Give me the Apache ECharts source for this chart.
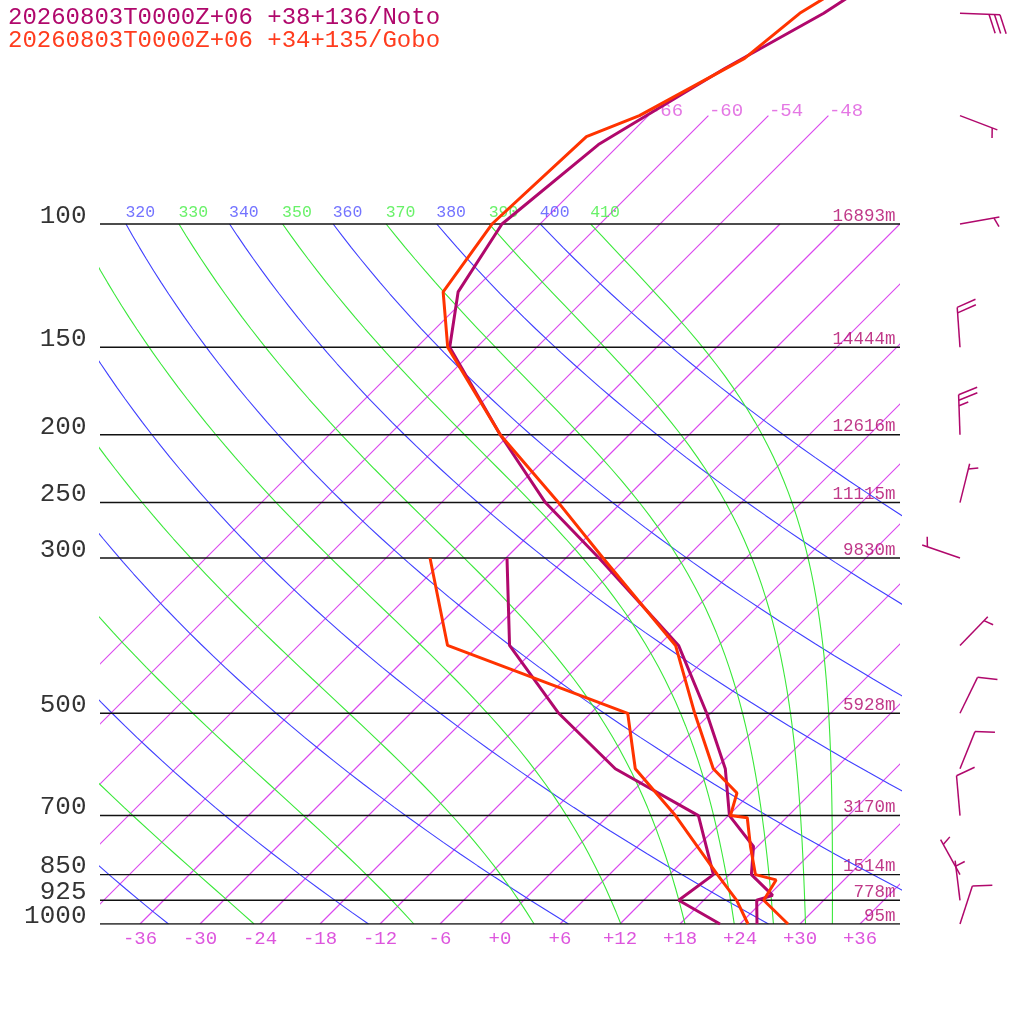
<!DOCTYPE html>
<html>
<head>
<meta charset="utf-8">
<title>Skew-T</title>
<script src="https://cdn.jsdelivr.net/npm/echarts@6/dist/echarts.min.js"></script>
<style>
  html, body { margin: 0; padding: 0; background: #fff; }
  #chart { width: 1024px; height: 1024px; }
</style>
</head>
<body>
<div id="chart"></div>
<script>
// Noto sounding
const notoTP = [40, 50, 60, 77, 100, 125, 150, 200, 250, 300, 400, 500, 600, 700, 775, 850, 910, 925, 1000];
const notoT = [-55.1, -58.7, -63.1, -68.1, -69.8, -67.4, -62.7, -48.9, -37.6, -26.7, -10.0, -0.4, 7.0, 12.1, 17.6, 20.2, 24.4, 23.3, 25.7];
const notoTdP = [300, 400, 500, 600, 700, 850, 925, 1000];
const notoTd = [-35.9, -26.9, -15.2, -4.0, 9.0, 16.4, 15.5, 22.0];

// Gobo sounding
const goboTP = [40, 50, 58, 70, 75, 100, 125, 150, 200, 250, 300, 400, 500, 600, 650, 700, 705, 775, 850, 865, 925, 1000];
const goboT = [-56.8, -61.1, -62.1, -66.9, -70.1, -70.8, -68.9, -62.9, -48.9, -36.3, -26.3, -10.3, -1.6, 5.8, 10.6, 12.2, 14.1, 17.3, 20.6, 23.2, 24.0, 28.8];
const goboTdP = [300, 400, 500, 600, 700, 850, 925, 1000];
const goboTd = [-43.6, -33.1, -8.3, -2.0, 6.7, 16.8, 21.3, 24.8];

// wind barbs (Noto)
const windP = [50, 70, 100, 150, 200, 250, 300, 400, 500, 600, 700, 850, 925, 1000];
const windDir = [92, 111, 80, 356, 358, 14, 289, 44, 26, 22, 355, 331, 353, 18];
const windKt = [30, 5, 5, 20, 25, 5, 5, 5, 10, 10, 10, 5, 5, 10];

// pressure levels and heights
const levels = [100, 150, 200, 250, 300, 500, 700, 850, 925, 1000];
const heights = ["16893m", "14444m", "12616m", "11115m", "9830m", "5928m", "3170m", "1514m", "778m", "95m"];

// diagram lines
const isotherms = [-66, -60, -54, -48, -42, -36, -30, -24, -18, -12, -6, 0, 6, 12, 18, 24, 30, 36];
const isothermTop = [-66, -60, -54, -48];
const dryTheta = [240, 260, 280, 300, 320, 340, 360, 380, 400];
const moistTheta = [250, 270, 290, 310, 330, 350, 370, 390, 410];
const xTicks = [-36, -30, -24, -18, -12, -6, 0, 6, 12, 18, 24, 30, 36];

const NOTO = "#b0086c";
const GOBO = "#ff3300";
const PINK = "#dd55dd";
const ISO = "rgb(218, 72, 238)";
const MONO = "Liberation Mono";
const SKEW = 30.4;
const PTOP = 1000 * Math.exp(-924 / 304);

const sx = (t, p) => t + SKEW * Math.log(1000 / p);

function thetaE(tc, p) {
  const es = 6.112 * Math.exp(17.67 * tc / (tc + 243.5));
  if (es > 0.5 * p) return 1e9;
  const r = 0.622 * es / (p - es);
  const tk = tc + 273.15;
  return tk * Math.pow(1000 / p, 0.2854 * (1 - 0.28 * r)) *
    Math.exp((3.376 / tk - 0.00254) * r * 1000 * (1 + 0.81 * r));
}

function moistT(te, p) {
  let lo = -160, hi = 60;
  for (let i = 0; i < 50; i++) {
    const mid = (lo + hi) / 2;
    if (thetaE(mid, p) > te) hi = mid; else lo = mid;
  }
  return (lo + hi) / 2;
}

const pSteps = [];
for (let k = 0; k <= 60; k++) pSteps.push(1000 * Math.pow(0.1, k / 60));

const series = [];
const thin = (color, data) => ({
  type: "line", data: data, symbol: "none", silent: true, color: color,
  itemStyle: { color: color },
  lineStyle: { color: color, width: 1.1, opacity: 1 }
});

dryTheta.forEach(th => {
  series.push(thin("#4040ff", pSteps.map(p => [sx(th * Math.pow(p / 1000, 0.2857) - 273.15, p), p])));
});
moistTheta.forEach(te => {
  series.push(thin("#3ae83a", pSteps.map(p => [sx(moistT(te, p), p), p])));
});
// isotherms: straight segments from 1000 hPa to their top level
series.push({
  type: "custom", silent: true, clip: true,
  data: isotherms.map(t => [t, isothermTop.includes(t) ? 70 : 100]),
  renderItem: (params, api) => {
    const t = api.value(0), pt = api.value(1);
    const a = api.coord([sx(t, 1000), 1000]);
    const b = api.coord([sx(t, pt), pt]);
    return {
      type: "line", shape: { x1: a[0], y1: a[1], x2: b[0], y2: b[1] },
      style: { stroke: ISO, fill: null, lineWidth: 1.2, opacity: 1 }
    };
  }
});

levels.forEach(p => {
  series.push({
    type: "line", data: [[-40, p], [40, p]], symbol: "none", silent: true, color: "#111",
    lineStyle: { color: "#111", width: 1.4 }
  });
});

// labels
const labelSeries = (data, label, clip) => ({
  type: "scatter", data: data, symbolSize: 1, silent: true, clip: clip,
  itemStyle: { color: "rgba(0,0,0,0)" },
  label: Object.assign({ show: true, formatter: d => d.value[2], fontFamily: MONO }, label)
});

series.push(labelSeries(levels.map(p => [-40, p, String(p)]),
  { position: "left", distance: 13, offset: [0, -8], color: "#000", fontSize: 26 }, false));
series.push(labelSeries(levels.map((p, i) => [40, p, heights[i]]),
  { position: "left", distance: 4, offset: [0, -8], color: NOTO, fontSize: 17.5 }, false));

const adLabels = [];
dryTheta.forEach(th => adLabels.push([sx(th * Math.pow(0.1, 0.2857) - 273.15, 100), 100, String(th), "#5050ff"]));
moistTheta.forEach(te => adLabels.push([sx(moistT(te, 100), 100), 100, String(te), "#44ee44"]));
series.push({
  type: "scatter", symbolSize: 1, silent: true, clip: false,
  itemStyle: { color: "rgba(0,0,0,0)" },
  data: adLabels.filter(d => d[0] >= -40 && d[0] <= 40).map(d => ({
    value: [d[0], d[1], d[2]],
    label: { color: d[3] }
  })),
  label: {
    show: true, formatter: d => d.value[2], fontFamily: MONO, fontSize: 16.5,
    position: "right", distance: 0, offset: [-1, -11]
  }
});

series.push(labelSeries(isothermTop.map(t => [sx(t, 70), 70, String(t)]),
  { position: "right", distance: 0, offset: [0, -5], color: PINK, fontSize: 19 }, false));

// profiles
const profile = (ps, ts, color) => ({
  type: "line", symbol: "none", silent: true, color: color,
  data: ps.map((p, i) => [sx(ts[i], p), p]),
  lineStyle: { color: color, width: 3 }
});
series.push(profile(notoTdP, notoTd, NOTO));
series.push(profile(notoTP, notoT, NOTO));
series.push(profile(goboTdP, goboTd, GOBO));
series.push(profile(goboTP, goboT, GOBO));

// wind barbs
function renderBarb(params, api) {
  const base = api.coord([api.value(0), api.value(1)]);
  const dir = api.value(2) * Math.PI / 180;
  const kt = api.value(3);
  const ux = Math.sin(dir), uy = -Math.cos(dir);
  const len = 40, step = 5.5, ang = 70 * Math.PI / 180;
  const fx = ux * Math.cos(ang) - uy * Math.sin(ang);
  const fy = ux * Math.sin(ang) + uy * Math.cos(ang);
  const tip = [base[0] + ux * len, base[1] + uy * len];
  const style = { stroke: NOTO, lineWidth: 1.5 };
  const children = [{ type: "line", shape: { x1: base[0], y1: base[1], x2: tip[0], y2: tip[1] }, style: style }];
  const feather = (k, l) => {
    const x1 = tip[0] - ux * step * k, y1 = tip[1] - uy * step * k;
    children.push({ type: "line", shape: { x1: x1, y1: y1, x2: x1 + fx * l, y2: y1 + fy * l }, style: style });
  };
  const full = Math.floor(kt / 10);
  let k = 0;
  for (; k < full; k++) feather(k, 20);
  if (kt % 10 >= 5) feather(full === 0 ? 1 : k, 10);
  return { type: "group", children: children };
}
series.push({
  type: "custom", silent: true, clip: false,
  data: windP.map((p, i) => [46, p, windDir[i], windKt[i]]),
  renderItem: renderBarb
});

const chart = echarts.init(document.getElementById("chart"));
chart.setOption({
  animation: false,
  backgroundColor: "#fff",
  title: [
    { text: "20260803T0000Z+06 +38+136/Noto", left: 8, top: 6, padding: 0,
      textStyle: { color: NOTO, fontFamily: MONO, fontSize: 24, fontWeight: "normal" } },
    { text: "20260803T0000Z+06 +34+135/Gobo", left: 8, top: 29, padding: 0,
      textStyle: { color: "#ff3c1e", fontFamily: MONO, fontSize: 24, fontWeight: "normal" } }
  ],
  grid: { left: 100, right: 124, top: 0, bottom: 100, outerBoundsMode: "none" },
  xAxis: {
    type: "value", min: -40, max: 40,
    axisLine: { show: false }, axisTick: { show: false }, splitLine: { show: false },
    axisLabel: {
      customValues: xTicks, margin: 5, color: PINK, fontSize: 19, fontFamily: MONO,
      formatter: v => (v >= 0 ? "+" + v : String(v))
    }
  },
  yAxis: {
    type: "log", logBase: 10, inverse: true, min: PTOP, max: 1000,
    axisLine: { show: false }, axisTick: { show: false },
    axisLabel: { show: false }, splitLine: { show: false }
  },
  series: series
});
window.addEventListener("resize", () => chart.resize());
</script>
</body>
</html>
